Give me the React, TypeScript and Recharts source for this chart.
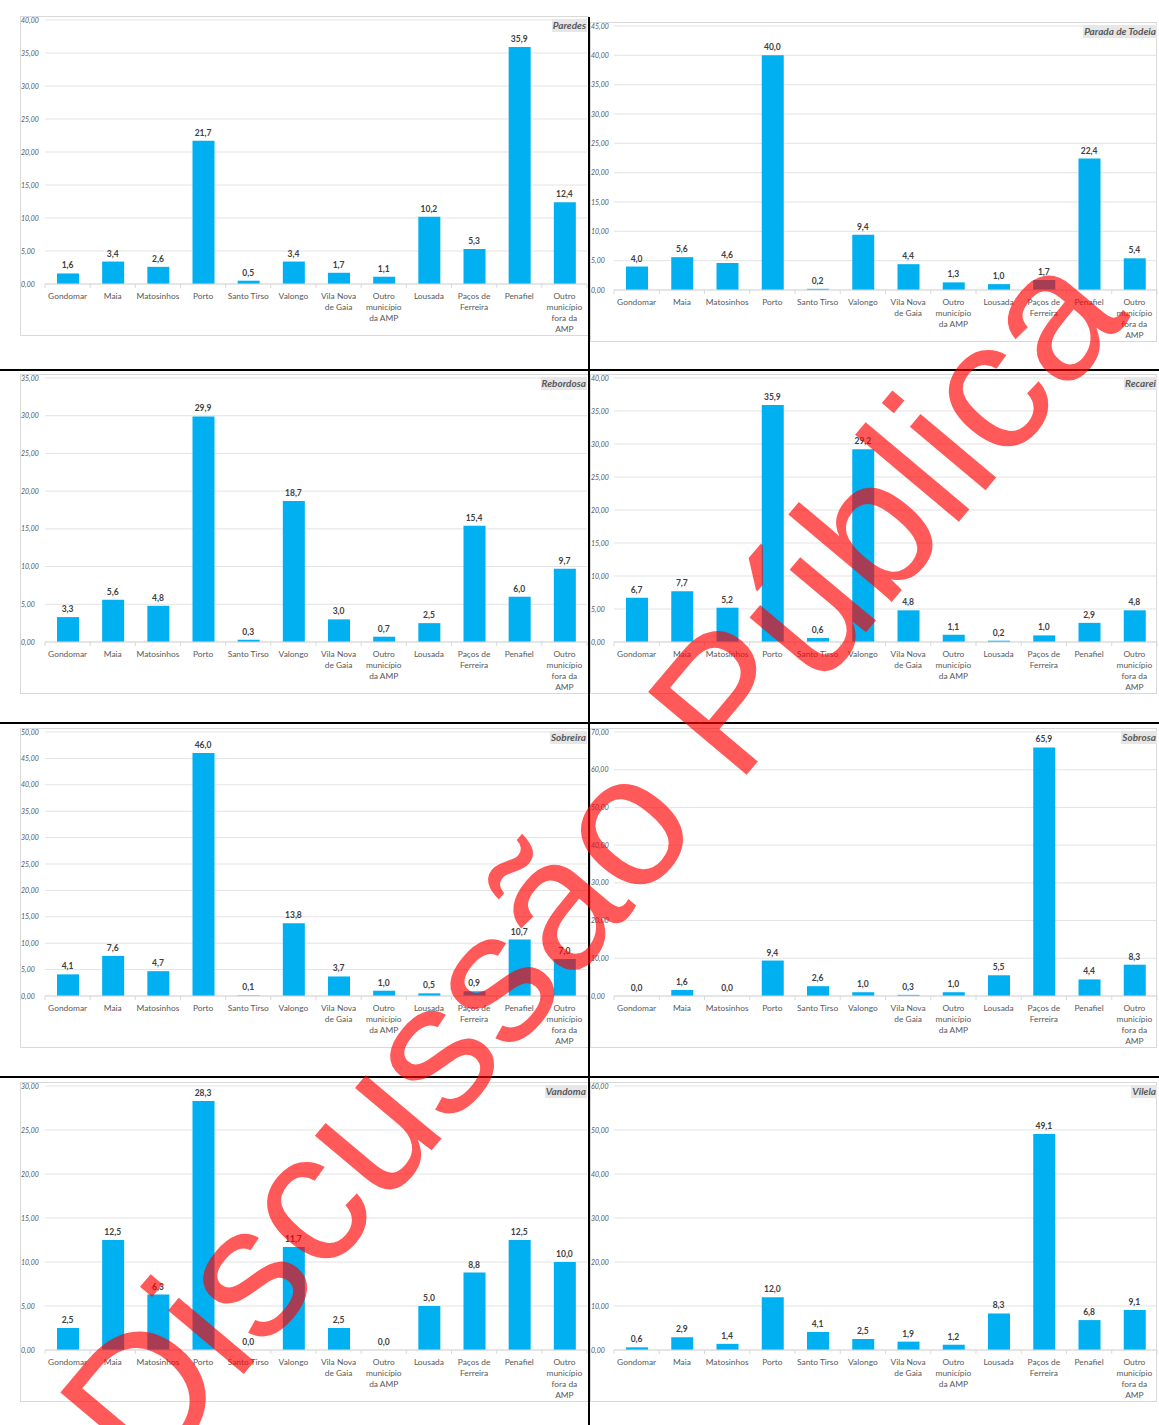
import React from "react";
import { ComposedChart, Bar, Line, XAxis, YAxis, CartesianGrid, LabelList } from "recharts";

const categories = [
  "Gondomar",
  "Maia",
  "Matosinhos",
  "Porto",
  "Santo Tirso",
  "Valongo",
  "Vila Nova\nde Gaia",
  "Outro\nmunicípio\nda AMP",
  "Lousada",
  "Paços de\nFerreira",
  "Penafiel",
  "Outro\nmunicípio\nfora da\nAMP",
];

const paredes = [1.6, 3.4, 2.6, 21.7, 0.5, 3.4, 1.7, 1.1, 10.2, 5.3, 35.9, 12.4];
const paradaDeTodeia = [4.0, 5.6, 4.6, 40.0, 0.2, 9.4, 4.4, 1.3, 1.0, 1.7, 22.4, 5.4];
const rebordosa = [3.3, 5.6, 4.8, 29.9, 0.3, 18.7, 3.0, 0.7, 2.5, 15.4, 6.0, 9.7];
const recarei = [6.7, 7.7, 5.2, 35.9, 0.6, 29.2, 4.8, 1.1, 0.2, 1.0, 2.9, 4.8];
const sobreira = [4.1, 7.6, 4.7, 46.0, 0.1, 13.8, 3.7, 1.0, 0.5, 0.9, 10.7, 7.0];
const sobrosa = [0.0, 1.6, 0.0, 9.4, 2.6, 1.0, 0.3, 1.0, 5.5, 65.9, 4.4, 8.3];
const vandoma = [2.5, 12.5, 6.3, 28.3, 0.0, 11.7, 2.5, 0.0, 5.0, 8.8, 12.5, 10.0];
const vilela = [0.6, 2.9, 1.4, 12.0, 4.1, 2.5, 1.9, 1.2, 8.3, 49.1, 6.8, 9.1];

const ticks30 = [0, 5, 10, 15, 20, 25, 30];
const ticks35 = [0, 5, 10, 15, 20, 25, 30, 35];
const ticks40 = [0, 5, 10, 15, 20, 25, 30, 35, 40];
const ticks45 = [0, 5, 10, 15, 20, 25, 30, 35, 40, 45];
const ticks50 = [0, 5, 10, 15, 20, 25, 30, 35, 40, 45, 50];
const ticks60 = [0, 10, 20, 30, 40, 50, 60];
const ticks70 = [0, 10, 20, 30, 40, 50, 60, 70];

const panels = [
  { title: "Paredes", values: paredes, ticks: ticks40, side: "left", top: 16 },
  { title: "Parada de Todeia", values: paradaDeTodeia, ticks: ticks45, side: "right", top: 22 },
  { title: "Rebordosa", values: rebordosa, ticks: ticks35, side: "left", top: 374 },
  { title: "Recarei", values: recarei, ticks: ticks40, side: "right", top: 374 },
  { title: "Sobreira", values: sobreira, ticks: ticks50, side: "left", top: 728 },
  { title: "Sobrosa", values: sobrosa, ticks: ticks70, side: "right", top: 728 },
  { title: "Vandoma", values: vandoma, ticks: ticks30, side: "left", top: 1082 },
  { title: "Vilela", values: vilela, ticks: ticks60, side: "right", top: 1082 },
];

const FONT = "Lato, 'Liberation Sans', sans-serif";
const CHART_H = 320;

const fmt1 = (v: any) => Number(v).toFixed(1).replace(".", ",");
const fmt2 = (v: any) => Number(v).toFixed(2).replace(".", ",");

const YTick = (props: any) => {
  const { y, payload } = props;
  return (
    <text
      x={1}
      y={y}
      dy={2.5}
      textAnchor="start"
      fontSize={7}
      fontStyle="italic"
      fontFamily={FONT}
      fill="#595959"
    >
      {fmt2(payload.value)}
    </text>
  );
};

const makeXTick = (band: number) => (props: any) => {
  const { x, y, payload, index } = props;
  const lines = String(payload.value).split("\n");
  return (
    <g>
      <line x1={x - band / 2} x2={x - band / 2} y1={y} y2={y + 4} stroke="#d9d9d9" />
      {index === categories.length - 1 && (
        <line x1={x + band / 2} x2={x + band / 2} y1={y} y2={y + 4} stroke="#d9d9d9" />
      )}
      <text
        x={x}
        y={y + 15}
        textAnchor="middle"
        fontSize={8.4}
        fontFamily={FONT}
        fill="#595959"
      >
        {lines.map((l, i) => (
          <tspan key={i} x={x} dy={i === 0 ? 0 : 11}>
            {l}
          </tspan>
        ))}
      </text>
    </g>
  );
};

const Panel = ({ p }: { p: any }) => {
  const isLeft = p.side === "left";
  const left = isLeft ? 20 : 590;
  const width = isLeft ? 569 : 568;
  const yw = isLeft ? 25 : 24;
  const mr = isLeft ? 2 : 1;
  const band = (width - yw - mr) / categories.length;
  const data = categories.map((c, i) => ({ name: c, v: p.values[i] }));
  const max = p.ticks[p.ticks.length - 1];
  const XTick = makeXTick(band);
  return (
    <>
      <div
        style={{
          position: "absolute",
          left,
          top: p.top,
          width: isLeft ? 569 : 567,
          height: CHART_H,
          border: "1px solid #d9d9d9",
          boxSizing: "border-box",
          background: "#fff",
        }}
      />
      <div style={{ position: "absolute", left, top: p.top, width, height: CHART_H }}>
        <ComposedChart
          width={width}
          height={CHART_H}
          data={data}
          margin={{ top: 4, right: mr, bottom: 2, left: 0 }}
        >
          <CartesianGrid vertical={false} stroke="#e3e3e3" />
          <XAxis
            dataKey="name"
            interval={0}
            height={50}
            tickSize={0}
            tickMargin={0}
            tickLine={false}
            axisLine={{ stroke: "#d9d9d9" }}
            tick={<XTick />}
          />
          <YAxis
            width={yw}
            domain={[0, max]}
            ticks={p.ticks}
            interval={0}
            axisLine={false}
            tickLine={false}
            tick={<YTick />}
          />
          <Bar dataKey="v" fill="#00b0f0" barSize={22} isAnimationActive={false} />
          <Line
            dataKey="v"
            stroke="none"
            dot={false}
            activeDot={false}
            isAnimationActive={false}
          >
            <LabelList
              dataKey="v"
              position="top"
              offset={5}
              formatter={fmt1}
              style={{ fontSize: 8.5, fontWeight: 700, fontFamily: FONT, fill: "#404040" }}
            />
          </Line>
        </ComposedChart>
      </div>
      <div
        style={{
          position: "absolute",
          right: isLeft ? 1159 - 587 : 1159 - 1157,
          top: p.top + 3,
          height: 13,
          lineHeight: "13px",
          padding: "0 1px",
          background: "#e7e7e7",
          color: "#595959",
          fontFamily: FONT,
          fontStyle: "italic",
          fontWeight: 700,
          fontSize: 10,
          whiteSpace: "nowrap",
        }}
      >
        {p.title}
      </div>
    </>
  );
};

export default function App() {
  return (
    <div
      style={{
        position: "absolute",
        left: 0,
        top: 0,
        width: 1159,
        height: 1425,
        background: "#fff",
        overflow: "hidden",
      }}
    >
      {panels.map((p) => (
        <Panel key={p.title} p={p} />
      ))}
      <div style={{ position: "absolute", left: 588, top: 17, width: 2, height: 1408, background: "#000" }} />
      <div style={{ position: "absolute", left: 0, top: 369, width: 1159, height: 2, background: "#000" }} />
      <div style={{ position: "absolute", left: 0, top: 722, width: 1159, height: 2, background: "#000" }} />
      <div style={{ position: "absolute", left: 0, top: 1076, width: 1159, height: 2, background: "#000" }} />
      <svg
        width={1159}
        height={1425}
        style={{ position: "absolute", left: 0, top: 0, pointerEvents: "none" }}
      >
        <text
          x={149}
          y={1487}
          transform="rotate(-50 149 1487)"
          fontSize={187}
          fontFamily="'Liberation Sans', Arial, sans-serif"
          fill="#ff0000"
          fillOpacity={0.65}
        >
          Discussão Pública
        </text>
      </svg>
    </div>
  );
}
